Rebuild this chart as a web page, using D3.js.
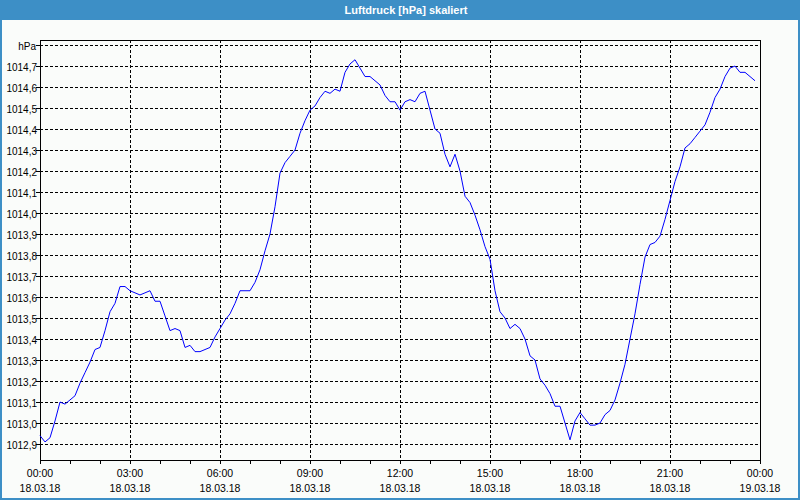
<!DOCTYPE html>
<html>
<head>
<meta charset="utf-8">
<script src="https://cdn.jsdelivr.net/npm/d3@7"></script>
<style>
  html, body { margin: 0; padding: 0; background: #fafcfa; }
  svg { display: block; }
  text { font-family: "Liberation Sans", Arial, sans-serif; }
</style>
</head>
<body>
<svg id="chart" width="800" height="500"></svg>
<script>
// ---- data ----
const title = "Luftdruck [hPa] skaliert";
const unitLabel = "hPa";
const startTime = "2018-03-18T00:00:00";
const endTime = "2018-03-19T00:00:00";
const stepMinutes = 10;
// Luftdruck in hPa, one value every 10 minutes from 00:00
const pressure = [
  1012.94, 1012.91, 1012.93, 1013.01, 1013.10, 1013.09, 1013.11, 1013.13, 1013.19, 1013.24,
  1013.29, 1013.35, 1013.36, 1013.44, 1013.53, 1013.57, 1013.65, 1013.65, 1013.63, 1013.62,
  1013.61, 1013.62, 1013.63, 1013.58, 1013.58, 1013.51, 1013.44, 1013.45, 1013.44, 1013.36,
  1013.37, 1013.34, 1013.34, 1013.35, 1013.36, 1013.41, 1013.45, 1013.49, 1013.52, 1013.57,
  1013.63, 1013.63, 1013.63, 1013.67, 1013.73, 1013.82, 1013.90, 1014.03, 1014.19, 1014.24,
  1014.27, 1014.30, 1014.38, 1014.44, 1014.49, 1014.51, 1014.55, 1014.58, 1014.57, 1014.59,
  1014.58, 1014.67, 1014.71, 1014.73, 1014.69, 1014.65, 1014.65, 1014.63, 1014.61, 1014.56,
  1014.53, 1014.53, 1014.49, 1014.53, 1014.54, 1014.53, 1014.57, 1014.58, 1014.49, 1014.40,
  1014.38, 1014.28, 1014.22, 1014.28, 1014.20, 1014.08, 1014.05, 1013.99, 1013.92, 1013.84,
  1013.78, 1013.63, 1013.53, 1013.50, 1013.45, 1013.47, 1013.45, 1013.40, 1013.32, 1013.30,
  1013.21, 1013.18, 1013.14, 1013.08, 1013.08, 1013.00, 1012.92, 1013.01, 1013.05, 1013.02,
  1012.99, 1012.99, 1013.00, 1013.04, 1013.06, 1013.11, 1013.19, 1013.28, 1013.40, 1013.52,
  1013.66, 1013.79, 1013.85, 1013.86, 1013.89, 1013.97, 1014.06, 1014.15, 1014.22, 1014.31,
  1014.33, 1014.36, 1014.39, 1014.42, 1014.48, 1014.55, 1014.59, 1014.65, 1014.69, 1014.70,
  1014.67, 1014.67, 1014.65, 1014.63
];
const yTicks = [1012.9, 1013.0, 1013.1, 1013.2, 1013.3, 1013.4, 1013.5, 1013.6, 1013.7,
                1013.8, 1013.9, 1014.0, 1014.1, 1014.2, 1014.3, 1014.4, 1014.5, 1014.6, 1014.7];
const unitTick = 1014.8;
const yDomain = [1012.824, 1014.824];

// ---- layout ----
const W = 800, H = 500;
const plot = { left: 40, top: 40, right: 760, bottom: 460 };
const blue = "#3d8fc6";

const svg = d3.select("#chart");
const t0 = new Date(startTime), t1 = new Date(endTime);
const points = pressure.map((v, i) => ({ t: new Date(t0.getTime() + i * stepMinutes * 60000), v }));

const x = d3.scaleTime().domain([t0, t1]).range([plot.left, plot.right]);
const y = d3.scaleLinear().domain(yDomain).range([plot.bottom, plot.top]);
const px = v => Math.round(v) + 0.5;

const locale = d3.formatLocale({ decimal: ",", thousands: ".", grouping: [3], currency: ["", " €"] });
const fmtY = locale.format(".1f");
const fmtTime = d3.timeFormat("%H:%M");
const fmtDate = d3.timeFormat("%d.%m.%y");

// background
svg.append("rect").attr("width", W).attr("height", H).attr("fill", "#fafcfa");

// title bar
svg.append("rect").attr("x", 0).attr("y", 0).attr("width", W).attr("height", 20).attr("fill", blue);
svg.append("text").attr("x", 406).attr("y", 14).attr("text-anchor", "middle")
  .attr("fill", "#ffffff").attr("font-weight", "bold").attr("font-size", "11px").text(title);

// window frame
svg.append("rect").attr("x", 0).attr("y", 20).attr("width", 2).attr("height", H - 20).attr("fill", blue);
svg.append("rect").attr("x", W - 2).attr("y", 20).attr("width", 2).attr("height", H - 20).attr("fill", blue);
svg.append("rect").attr("x", 0).attr("y", H - 2).attr("width", W).attr("height", 2).attr("fill", blue);

const g = svg.append("g").attr("shape-rendering", "crispEdges");

// horizontal grid
const hLines = yTicks.concat([unitTick]);
g.selectAll("line.hgrid").data(hLines).enter().append("line")
  .attr("class", "hgrid")
  .attr("x1", plot.left).attr("x2", plot.right)
  .attr("y1", d => px(y(d))).attr("y2", d => px(y(d)))
  .attr("stroke", "#000").attr("stroke-width", 1).attr("stroke-dasharray", "3,2");

// vertical grid every 3 hours
const majorTicks = d3.timeHour.every(3).range(t0, new Date(t1.getTime() + 1));
g.selectAll("line.vgrid").data(majorTicks.filter(d => d > t0 && d < t1)).enter().append("line")
  .attr("class", "vgrid")
  .attr("x1", d => px(x(d))).attr("x2", d => px(x(d)))
  .attr("y1", plot.top).attr("y2", plot.bottom)
  .attr("stroke", "#000").attr("stroke-width", 1).attr("stroke-dasharray", "3,2");

// hourly ticks below axis
const hourTicks = d3.timeHour.every(1).range(t0, new Date(t1.getTime() + 1));
g.selectAll("line.xtick").data(hourTicks).enter().append("line")
  .attr("x1", d => px(x(d))).attr("x2", d => px(x(d)))
  .attr("y1", plot.bottom).attr("y2", plot.bottom + 4)
  .attr("stroke", "#000");

// y ticks left of axis
g.selectAll("line.ytick").data(hLines).enter().append("line")
  .attr("x1", plot.left - 4).attr("x2", plot.left)
  .attr("y1", d => px(y(d))).attr("y2", d => px(y(d)))
  .attr("stroke", "#000");

// plot frame
g.append("rect")
  .attr("x", plot.left + 0.5).attr("y", plot.top + 0.5)
  .attr("width", plot.right - plot.left).attr("height", plot.bottom - plot.top)
  .attr("fill", "none").attr("stroke", "#000");

// y labels
svg.selectAll("text.ylab").data(yTicks).enter().append("text")
  .attr("x", 37).attr("y", d => px(y(d)) + 4)
  .attr("text-anchor", "end").attr("font-size", "10px").attr("fill", "#000")
  .text(d => fmtY(d));
svg.append("text").attr("x", 36).attr("y", px(y(unitTick)) + 4)
  .attr("text-anchor", "end").attr("font-size", "10px").attr("fill", "#000").text(unitLabel);

// x labels
const xl = svg.selectAll("g.xlab").data(majorTicks).enter().append("g")
  .attr("transform", d => `translate(${x(d)},0)`);
xl.append("text").attr("y", 477).attr("text-anchor", "middle").attr("font-size", "10.5px")
  .attr("fill", "#000").text(d => fmtTime(d));
xl.append("text").attr("y", 492).attr("text-anchor", "middle").attr("font-size", "10.5px")
  .attr("fill", "#000").text(d => fmtDate(d));

// data line
const line = d3.line().x(d => x(d.t)).y(d => y(d.v));
svg.append("path").datum(points)
  .attr("d", line)
  .attr("fill", "none").attr("stroke", "#0000ff").attr("stroke-width", 1);
</script>
</body>
</html>
